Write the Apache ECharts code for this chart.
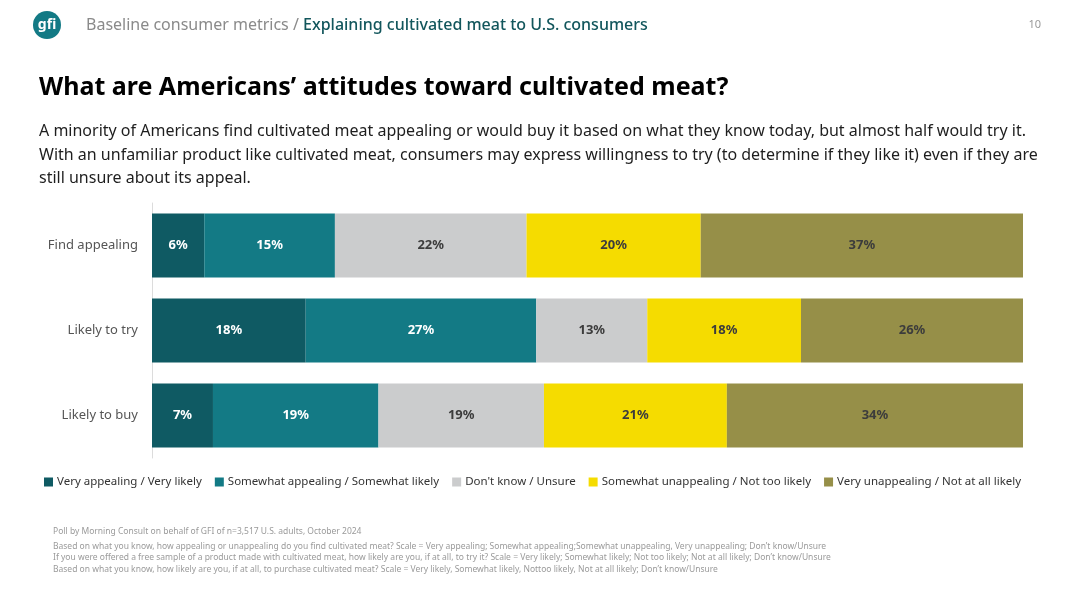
<!DOCTYPE html>
<html>
<head>
<meta charset="utf-8">
<script src="https://cdn.jsdelivr.net/npm/echarts@6/dist/echarts.min.js"></script>
<style>
html,body{margin:0;padding:0;background:#fff;}
#chart{width:1067px;height:600px;}
</style>
</head>
<body>
<div id="chart"></div>
<script>
const categories = ['Find appealing', 'Likely to try', 'Likely to buy'];
const seriesNames = [
  'Very appealing / Very likely',
  'Somewhat appealing / Somewhat likely',
  "Don't know / Unsure",
  'Somewhat unappealing / Not too likely',
  'Very unappealing / Not at all likely'
];
const veryPositive = [6, 18, 7];
const somewhatPositive = [15, 27, 19];
const unsure = [22, 13, 19];
const somewhatNegative = [20, 18, 21];
const veryNegative = [37, 26, 34];

const seriesValues = [veryPositive, somewhatPositive, unsure, somewhatNegative, veryNegative];
const colors = ['#0f5a63', '#137a85', '#cbcccd', '#f5dc00', '#968f48'];
const labelColors = ['#ffffff', '#ffffff', '#3c3c3c', '#3c3c3c', '#3c3c3c'];

const rowTotals = categories.map((c, i) => seriesValues.reduce((s, arr) => s + arr[i], 0));

const FONT = '"Noto Sans", "Open Sans", sans-serif';

const chart = echarts.init(document.getElementById('chart'));

const series = seriesValues.map((vals, si) => ({
  name: seriesNames[si],
  type: 'bar',
  stack: 'total',
  barWidth: 64,
  itemStyle: { color: colors[si] },
  label: {
    show: true,
    position: 'inside',
    color: labelColors[si],
    fontFamily: FONT,
    fontWeight: 'bold',
    fontSize: 13,
    formatter: p => vals[p.dataIndex] + '%'
  },
  emphasis: { disabled: true },
  data: vals.map((v, i) => v / rowTotals[i] * 100)
}));

const footnotes = [
  'Poll by Morning Consult on behalf of GFI of n=3,517 U.S. adults, October 2024',
  'Based on what you know, how appealing or unappealing do you find cultivated meat? Scale = Very appealing; Somewhat appealing;Somewhat unappealing, Very unappealing; Don\u2019t know/Unsure',
  'If you were offered a free sample of a product made with cultivated meat, how likely are you, if at all, to try it? Scale = Very likely; Somewhat likely; Not too likely; Not at all likely; Don\u2019t know/Unsure',
  'Based on what you know, how likely are you, if at all, to purchase cultivated meat? Scale = Very likely, Somewhat likely, Nottoo likely, Not at all likely; Don\u2019t know/Unsure'
];
const footY = [532, 546.5, 557.5, 570];

const graphics = [
  { type: 'circle', shape: { cx: 47, cy: 25, r: 14 }, style: { fill: '#137a85' } },
  { type: 'text', x: 47, y: 25, style: { text: 'gfi', fill: '#fff', font: 'bold 14px ' + FONT, align: 'center', verticalAlign: 'middle' } },
  { type: 'text', x: 86, y: 25, style: {
      text: '{a|Baseline consumer metrics / }{b|Explaining cultivated meat to U.S. consumers}',
      verticalAlign: 'middle',
      rich: {
        a: { fill: '#8a8a8a', fontSize: 16, fontFamily: FONT },
        b: { fill: '#12565c', fontSize: 16, fontFamily: FONT, fontWeight: 500 }
      }
  } },
  { type: 'text', x: 1041, y: 25, style: { text: '10', fill: '#999', font: '11px ' + FONT, align: 'right', verticalAlign: 'middle' } },
  { type: 'text', x: 39, y: 88, style: { text: 'What are Americans\u2019 attitudes toward cultivated meat?', fill: '#000', font: 'bold 25px ' + FONT, verticalAlign: 'middle' } },
  { type: 'text', x: 39, y: 120, style: {
      text: 'A minority of Americans find cultivated meat appealing or would buy it based on what they know today, but almost half would try it.\nWith an unfamiliar product like cultivated meat, consumers may express willingness to try (to determine if they like it) even if they are\nstill unsure about its appeal.',
      fill: '#1e1e1e', font: '16px ' + FONT, lineHeight: 23.5, verticalAlign: 'top'
  } }
].concat(footnotes.map((t, i) => ({
  type: 'text', x: 53, y: footY[i], style: { text: t, fill: '#9a9a9a', font: '8.5px ' + FONT, verticalAlign: 'middle' }
})));

chart.setOption({
  animation: false,
  grid: { left: 152, right: 44, top: 203, height: 255, containLabel: false },
  xAxis: { type: 'value', min: 0, max: 100, show: false },
  yAxis: {
    type: 'category',
    data: categories,
    inverse: true,
    axisLine: { show: true, lineStyle: { color: '#dcdcdc', width: 1 } },
    axisTick: { show: false },
    axisLabel: { color: '#555', fontSize: 13, fontFamily: FONT, margin: 14 }
  },
  legend: {
    data: seriesNames,
    left: 44,
    top: 476,
    padding: 0,
    itemWidth: 9,
    itemHeight: 9,
    itemGap: 13,
    icon: 'rect',
    textStyle: { color: '#333', fontSize: 11.5, fontFamily: FONT, padding: [0, 0, 0, -1] },
    selectedMode: false
  },
  graphic: graphics,
  series: series
});
</script>
</body>
</html>
